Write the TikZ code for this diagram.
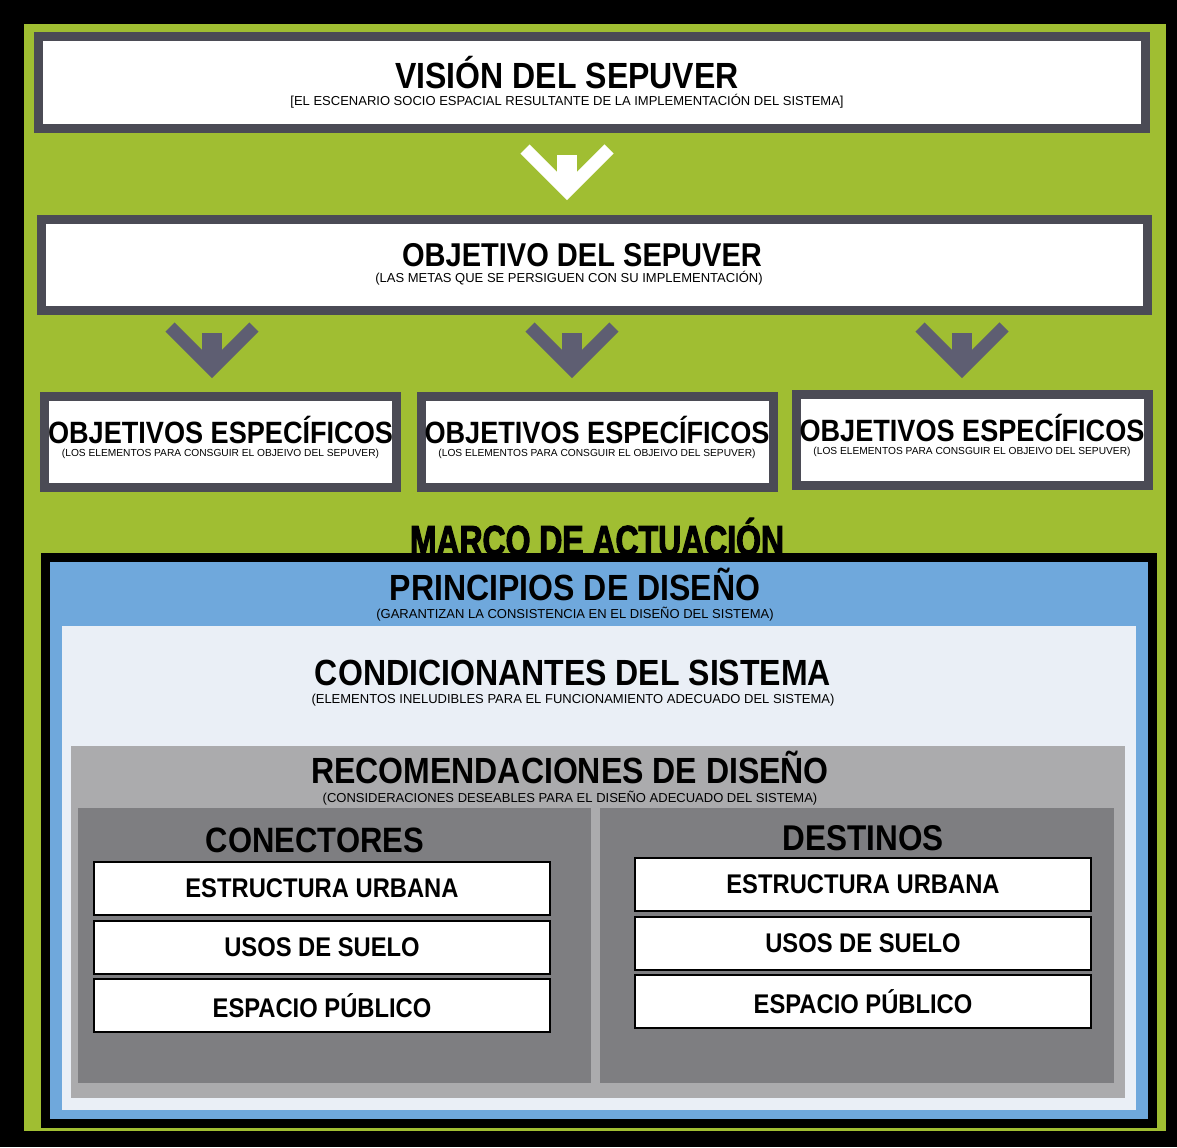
\documentclass[tikz,border=0pt]{standalone}
\usepackage{fontspec}
\setmainfont{Liberation Sans}
\newfontfamily\titfont{Liberation Sans}[FakeStretch=0.88]
\newfontfamily\marcofont{Liberation Sans}[FakeStretch=0.76,BoldFeatures={FakeBold=2.5}]
\usepackage{tikz}

\definecolor{verde}{HTML}{A0BE32}
\definecolor{bordegris}{HTML}{4B4B55}
\definecolor{flechagris}{HTML}{5E5E72}
\definecolor{azul}{HTML}{6FA8DC}
\definecolor{claro}{HTML}{EAEFF6}
\definecolor{grismedio}{HTML}{ABABAD}
\definecolor{grisoscuro}{HTML}{7E7E81}

% chevron: #1 = tip coordinate, #2 = colour
\newcommand\flecha[2]{%
  \draw[#2,line width=6.5pt,miter limit=10] (#1) +(-42,-42) -- (#1) -- +(42,-42);
  \fill[#2] (#1) +(-10,-36) rectangle +(10,-7);}

\begin{document}
\begin{tikzpicture}
    [x=0.5pt,y=-0.5pt,
     caja/.style={rectangle,draw=bordegris,line width=4.5pt,fill=white,inner sep=0pt},
     zona/.style={rectangle,inner sep=0pt},
     cajita/.style={rectangle,draw=black,line width=1pt,fill=white,inner sep=0pt,
       minimum width=228pt,minimum height=26.5pt,
       font=\titfont\bfseries\fontsize{13.5}{15}\selectfont},
     titulo/.style={anchor=base,inner sep=0pt,font=\titfont\bfseries\fontsize{18.2}{20}\selectfont},
     nota/.style={anchor=base,inner sep=0pt,font=\fontsize{6.5}{7}\selectfont}]

    \fill[black] (0,0) rectangle (1177,1147);
    \useasboundingbox (0,0) rectangle (1177,1147);
    \fill[verde] (24,24) rectangle (1166,1131);

    % vision y objetivo
    \node[caja,minimum width=553.5pt,minimum height=46pt] (vis) at (592,82.5) {};
    \node[titulo] (visT) at (567,88) {VISIÓN DEL SEPUVER};
    \node[nota] (visN) at (567,105) {[EL ESCENARIO SOCIO ESPACIAL RESULTANTE DE LA IMPLEMENTACIÓN DEL SISTEMA]};

    \node[caja,minimum width=553pt,minimum height=45.5pt] (obj) at (594.5,265) {};
    \node[titulo,font=\titfont\bfseries\fontsize{16.5}{18}\selectfont] (objT) at (582,266) {OBJETIVO DEL SEPUVER};
    \node[nota] (objN) at (569,282) {(LAS METAS QUE SE PERSIGUEN CON SU IMPLEMENTACIÓN)};

    % objetivos especificos
    \foreach \i/\x/\y in {1/220.5/442,2/597/442,3/972/440}{
      \node[caja,minimum width=176pt,minimum height=45.5pt] (esp\i) at (\x,\y) {};
      \node[titulo,font=\titfont\bfseries\fontsize{15.4}{17}\selectfont] (espT\i) at (\x,\y+1) {OBJETIVOS ESPECÍFICOS};
      \node[nota,font=\fontsize{5.1}{6}\selectfont] (espN\i) at (\x,\y+14) {(LOS ELEMENTOS PARA CONSGUIR EL OBJEIVO DEL SEPUVER)};
    }

    \coordinate (f0) at (567,191);
    \coordinate (f1) at (212,369);
    \coordinate (f2) at (572,369);
    \coordinate (f3) at (962,369);
    \flecha{f0}{white}
    \foreach \f in {f1,f2,f3} {\flecha{\f}{flechagris}}

    % marco de actuacion
    \node[zona,draw=black,line width=4.5pt,fill=azul,minimum width=553.5pt,minimum height=283pt] (marco) at (599,840.5) {};
    \node[anchor=base,inner sep=0pt,font=\marcofont\bfseries\fontsize{21}{23}\selectfont] (marcoT) at (597,555) {MARCO DE ACTUACIÓN};
    \node[zona,fill=claro,minimum width=537pt,minimum height=242pt] (cond) at (599,868) {};
    \node[zona,fill=grismedio,minimum width=527pt,minimum height=176pt] (recom) at (598,922) {};
    \node[zona,fill=grisoscuro,minimum width=256.5pt,minimum height=137.5pt] (pcon) at (334.5,945.5) {};
    \node[zona,fill=grisoscuro,minimum width=257pt,minimum height=137.5pt] (pdes) at (857,945.5) {};

    \node[titulo] (prinT) at (575,600) {PRINCIPIOS DE DISEÑO};
    \node[nota] (prinN) at (575,618) {(GARANTIZAN LA CONSISTENCIA EN EL DISEÑO DEL SISTEMA)};
    \node[titulo] (condT) at (573,685) {CONDICIONANTES DEL SISTEMA};
    \node[nota] (condN) at (573,703) {(ELEMENTOS INELUDIBLES PARA EL FUNCIONAMIENTO ADECUADO DEL SISTEMA)};
    \node[titulo] (recomT) at (570,783) {RECOMENDACIONES DE DISEÑO};
    \node[nota] (recomN) at (570,802) {(CONSIDERACIONES DESEABLES PARA EL DISEÑO ADECUADO DEL SISTEMA)};
    \node[titulo,font=\titfont\bfseries\fontsize{17.6}{19}\selectfont] (conT) at (315,852) {CONECTORES};
    \node[titulo,font=\titfont\bfseries\fontsize{17.9}{19}\selectfont] (desT) at (863,850) {DESTINOS};

    \foreach \lado/\cx/\cy in {con/322/888.5,des/863/884.5}{
      \foreach \j/\txt in {1/ESTRUCTURA URBANA,2/USOS DE SUELO,3/ESPACIO PÚBLICO}{
        \node[cajita] (\lado\j) at (\cx,\cy+58.7*\j-58.7) {\txt};
      }
    }

\end{tikzpicture}
\end{document}
